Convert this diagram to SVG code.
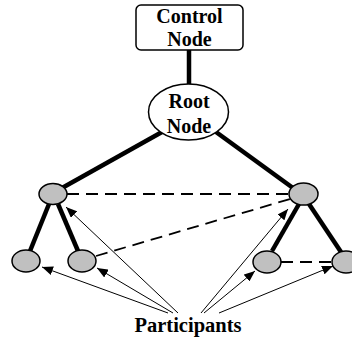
<svg xmlns="http://www.w3.org/2000/svg" width="352" height="339" viewBox="0 0 352 339">
  <defs>
    <marker id="ah" markerUnits="userSpaceOnUse" markerWidth="12" markerHeight="9" refX="11" refY="4.5" orient="auto">
      <path d="M0,0 L11,4.5 L0,9 z" fill="#000"/>
    </marker>
    <style>
      .lbl { font-family: "Liberation Serif", "Times New Roman", serif; font-weight: bold; font-size: 20px; fill: #000; text-anchor: middle; }
      .thick { stroke: #000; stroke-width: 4.5; fill: none; }
      .dash { stroke: #000; stroke-width: 1.8; stroke-dasharray: 12 7; fill: none; }
      .arrow { stroke: #000; stroke-width: 1; fill: none; marker-end: url(#ah); }
      .leaf { fill: #c0c0c0; stroke: #000; stroke-width: 1.5; }
      .box { fill: #fff; stroke: #000; stroke-width: 1.5; }
    </style>
  </defs>
  <rect width="352" height="339" fill="#fff"/>

  <g id="connectors">
    <line class="thick" x1="189" y1="50" x2="189" y2="85"/>
    <line class="thick" x1="162" y1="132" x2="62" y2="188"/>
    <line class="thick" x1="216" y1="132" x2="293" y2="188"/>
    <line class="thick" x1="49" y1="204" x2="30" y2="251"/>
    <line class="thick" x1="58" y1="204" x2="78" y2="251"/>
    <line class="thick" x1="299" y1="204" x2="272" y2="251"/>
    <line class="thick" x1="309" y1="204" x2="341" y2="252"/>
    <line class="dash" x1="67" y1="194" x2="289" y2="194"/>
    <line class="dash" x1="96" y1="256" x2="290" y2="199"/>
    <line class="dash" x1="281" y1="262" x2="332" y2="262"/>
    <line class="arrow" x1="168" y1="313" x2="42" y2="267"/>
    <line class="arrow" x1="173" y1="313" x2="97" y2="268"/>
    <line class="arrow" x1="178" y1="313" x2="66" y2="207"/>
    <line class="arrow" x1="201" y1="313" x2="288" y2="209"/>
    <line class="arrow" x1="204" y1="313" x2="255" y2="271"/>
    <line class="arrow" x1="219" y1="313" x2="333" y2="266"/>
  </g>

  <g id="control-node">
    <rect class="box" x="136" y="5" width="107" height="45" rx="5"/>
    <text class="lbl" x="189.5" y="23">Control</text>
    <text class="lbl" x="189.5" y="46">Node</text>
  </g>
  <g id="root-node">
    <ellipse class="box" cx="188.5" cy="112" rx="40" ry="28"/>
    <text class="lbl" x="189" y="108">Root</text>
    <text class="lbl" x="189" y="133">Node</text>
  </g>
  <g id="mid-left"><ellipse class="leaf" cx="53" cy="194" rx="14" ry="10.5"/></g>
  <g id="mid-right"><ellipse class="leaf" cx="303.5" cy="194" rx="14.5" ry="11"/></g>
  <g id="leaf-1"><ellipse class="leaf" cx="26" cy="261" rx="14" ry="11"/></g>
  <g id="leaf-2"><ellipse class="leaf" cx="82" cy="261" rx="14" ry="11"/></g>
  <g id="leaf-3"><ellipse class="leaf" cx="267" cy="262" rx="14" ry="11"/></g>
  <g id="leaf-4"><ellipse class="leaf" cx="346" cy="262" rx="14" ry="11"/></g>

  <g id="participants-label">
    <text class="lbl" x="188" y="332" style="font-size:20.5px">Participants</text>
  </g>
</svg>
